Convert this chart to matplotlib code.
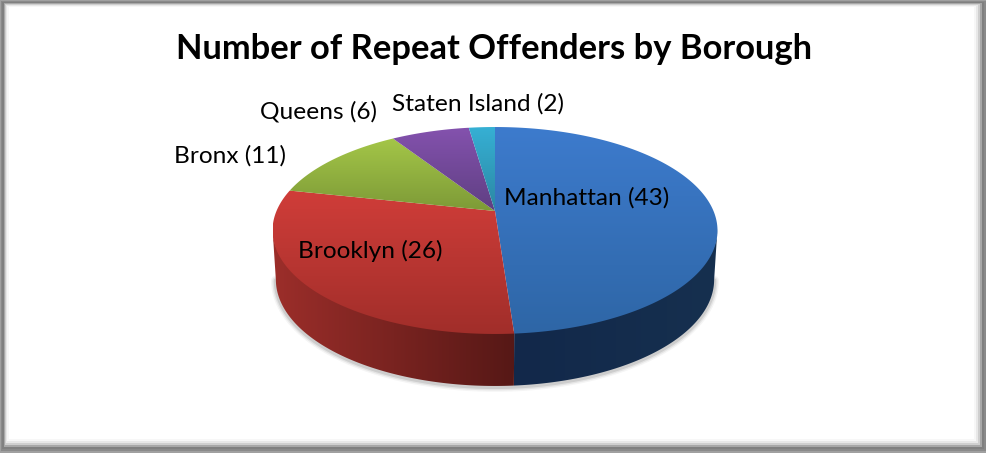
import numpy as np
import matplotlib
matplotlib.use('Agg')
import matplotlib.pyplot as plt
from matplotlib.colors import LinearSegmentedColormap
from matplotlib.patches import Polygon, Rectangle

title = 'Number of Repeat Offenders by Borough'
boroughs = ['Manhattan', 'Brooklyn', 'Bronx', 'Queens', 'Staten Island']
offenders = [43, 26, 11, 6, 2]

top_colors = [('#3d7bcd', '#2e66a6'), ('#d03d39', '#a12e2a'), ('#a4c648', '#7d9a37'),
              ('#8452ae', '#5f3f82'), ('#36b0d4', '#2b87a3')]
side_colors = [('#12284a', '#16304f'), ('#9c2e2a', '#561816')]
label_pos = [(587, 198), (370, 251), (230, 156), (319, 112), (478, 104)]

# pie geometry in image pixels, with a bit of perspective
apex_x, apex_y = 495, 211
scale_x, scale_y = 218.5, 99.8
persp = 0.1884
depth = 49


def top_point(theta):
    u, v = np.sin(theta), np.cos(theta)
    w = 1 + persp * v
    return apex_x + scale_x * u / w, apex_y - scale_y * v / w


def bottom_point(theta):
    x, y = top_point(theta)
    return apex_x + (x - apex_x) * 0.985, y + depth + 3 * (y - 230.5) / 103.5


def gradient_fill(ax, xy, c0, c1, vertical=True, zorder=2):
    xy = np.asarray(xy)
    cmap = LinearSegmentedColormap.from_list('g', [c0, c1])
    ramp = np.linspace(0, 1, 256)
    ramp = ramp[:, None] if vertical else ramp[None, :]
    x0, x1, y0, y1 = xy[:, 0].min(), xy[:, 0].max(), xy[:, 1].min(), xy[:, 1].max()
    im = ax.imshow(ramp, cmap=cmap, extent=(x0, x1, y1, y0), origin='upper',
                   aspect='auto', zorder=zorder, interpolation='bilinear')
    im.set_clip_path(Polygon(xy, closed=True, transform=ax.transData))


fig = plt.figure(figsize=(9.87, 4.53), dpi=100, facecolor='white')
ax = fig.add_axes([0, 0, 1, 1])
ax.axis('off')

# bevelled frame: left, top, right, bottom, colour
frame = [(0, 0, 987, 453, '#a0a0a0'), (1, 1, 986, 451, '#8a8a8a'), (2, 2, 984, 449, '#808080'),
         (4, 3, 982, 447, '#a8a8a8'), (5, 4, 980, 445, '#cfcfcf'), (6, 5, 978, 443, '#e8e8e8'),
         (7, 6, 976, 441, '#f7f7f7'), (9, 7, 974, 439, 'white')]
for l, t, r, b, c in frame:
    ax.add_patch(Rectangle((l, t), r - l, b - t, fc=c, ec='none', zorder=1))

fractions = np.cumsum([0] + offenders) / sum(offenders)
angles = 2 * np.pi * fractions

# soft shadow along the lower edge
edge_t = np.linspace(np.pi / 2 + 0.19, 3 * np.pi / 2 - 0.19, 200)
edge = np.array([bottom_point(t) for t in edge_t])
for lw, a in [(7, 0.06), (5, 0.10), (3, 0.16)]:
    ax.plot(edge[:, 0], edge[:, 1] + 1, color='#555555', lw=lw, alpha=a, zorder=2,
            solid_capstyle='round')

# visible side wall, only the front part of the circle
# upper edge goes a little under the top face so no white seam shows
front_start = np.pi - np.arccos(persp)
front_end = np.pi + np.arccos(persp)
for i, (c0, c1) in enumerate(side_colors):
    a0 = max(angles[i], front_start)
    a1 = min(angles[i + 1], front_end)
    t = np.linspace(a0, a1, 120)
    upper = [(top_point(v)[0], top_point(v)[1] - 2) for v in t]
    lower = [bottom_point(v) for v in t[::-1]]
    gradient_fill(ax, upper + lower, c0, c1, vertical=False, zorder=3)

# top face
for i, (c0, c1) in enumerate(top_colors):
    t = np.linspace(angles[i], angles[i + 1], 200)
    pts = [(apex_x, apex_y)] + [top_point(v) for v in t]
    gradient_fill(ax, pts, c0, c1, zorder=4)

ax.set_xlim(0, 987)
ax.set_ylim(453, 0)

font = ['Lato', 'DejaVu Sans']
ax.text(494, 49, title, ha='center', va='center', fontsize=24.8, fontweight='bold',
        family=font, color='black', zorder=6)
for name, val, (x, y) in zip(boroughs, offenders, label_pos):
    ax.text(x, y, f'{name} ({val})', ha='center', va='center', fontsize=17.6,
            family=font, color='black', zorder=6)

fig.savefig('out.png', dpi=100)
